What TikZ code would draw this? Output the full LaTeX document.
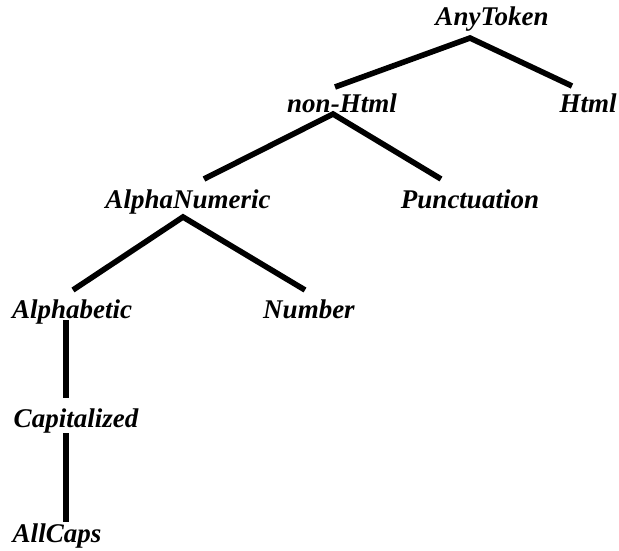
\documentclass[tikz,border=0pt]{standalone}
\usepackage{fontspec}
\setmainfont{Liberation Serif}
\begin{document}
\begin{tikzpicture}[x=1pt,y=-1pt,
  lab/.style={font=\fontsize{27}{30}\selectfont\bfseries\itshape, inner sep=0pt, anchor=base},
  edge/.style={line width=5.6pt}]
\useasboundingbox (0,0) rectangle (619,550);
\node[lab] (any) at (492,25) {AnyToken};
\node[lab] (non) at (342,112) {non-Html};
\node[lab] (html) at (588,112) {Html};
\node[lab] (alnum) at (188,208) {AlphaNumeric};
\node[lab] (punct) at (470,208) {Punctuation};
\node[lab] (alpha) at (72,318) {Alphabetic};
\node[lab] (num) at (309,318) {Number};
\node[lab] (cap) at (76,427) {Capitalized};
\node[lab] (allc) at (57,542) {AllCaps};
\coordinate (anyB) at (470,38);
\coordinate (nonT) at (335,87);
\coordinate (htmlT) at (572,86);
\coordinate (nonB) at (333,114);
\coordinate (alnumT) at (204,179);
\coordinate (punctT) at (441,179);
\coordinate (alnumB) at (183,217);
\coordinate (alphaT) at (73,290);
\coordinate (numT) at (305,290);
\coordinate (alphaB) at (66,320);
\coordinate (capT) at (66,398);
\coordinate (capB) at (66,433);
\coordinate (allcT) at (66,522);
\draw[edge] (nonT) -- (anyB) -- (htmlT);
\draw[edge] (alnumT) -- (nonB) -- (punctT);
\draw[edge] (alphaT) -- (alnumB) -- (numT);
\draw[edge] (alphaB) -- (capT);
\draw[edge] (capB) -- (allcT);
\end{tikzpicture}
\end{document}
